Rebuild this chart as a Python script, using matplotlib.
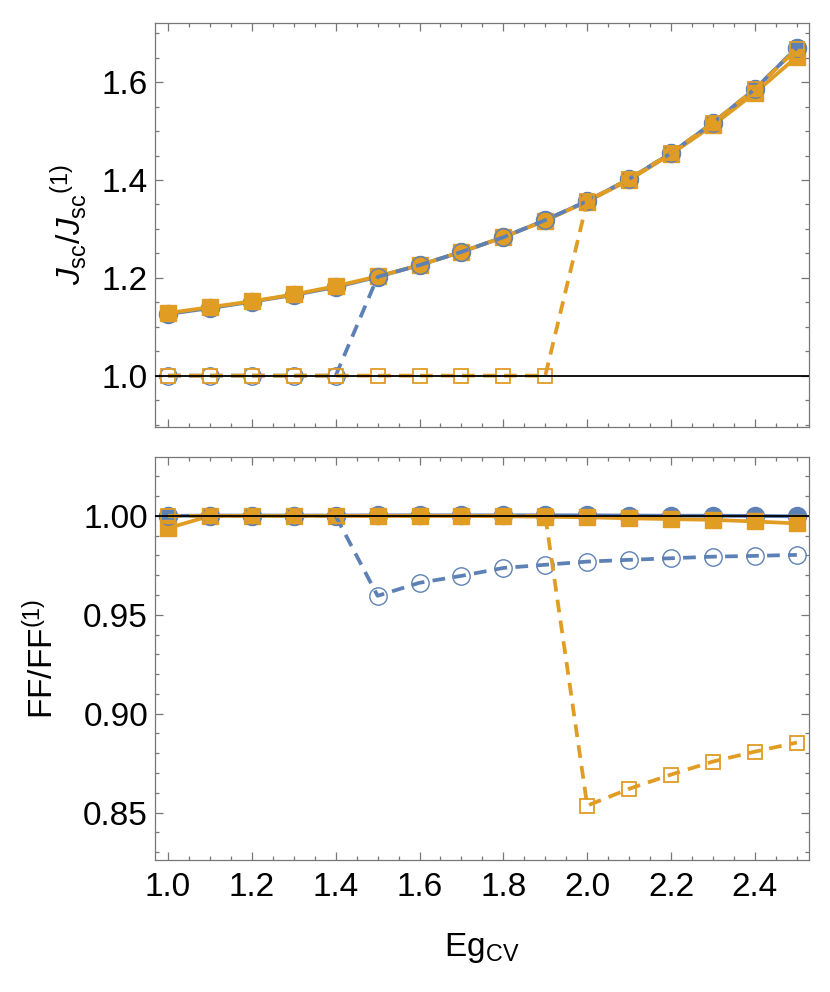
import matplotlib
matplotlib.use("Agg")
import matplotlib.pyplot as plt
from matplotlib.ticker import MultipleLocator

plt.rcParams["font.family"] = ["Liberation Sans", "DejaVu Sans"]
plt.rcParams["mathtext.fontset"] = "custom"
plt.rcParams["mathtext.rm"] = "Liberation Sans"
plt.rcParams["mathtext.it"] = "Liberation Sans:italic"

BLUE = "#5E81B5"
ORANGE = "#E19C24"

eg = [1.0, 1.1, 1.2, 1.3, 1.4, 1.5, 1.6, 1.7, 1.8, 1.9, 2.0, 2.1, 2.2, 2.3, 2.4, 2.5]

# top panel: Jsc / Jsc(1)
jsc_blue_solid = [1.126, 1.138, 1.151, 1.165, 1.181, 1.202, 1.226, 1.253,
                  1.283, 1.318, 1.357, 1.402, 1.455, 1.517, 1.586, 1.670]
jsc_orange_solid = [1.128, 1.140, 1.152, 1.166, 1.183, 1.203, 1.226, 1.253,
                    1.283, 1.317, 1.356, 1.400, 1.453, 1.512, 1.578, 1.652]
jsc_blue_dash = [1.0, 1.0, 1.0, 1.0, 1.0, 1.202, 1.226, 1.253,
                 1.283, 1.318, 1.357, 1.402, 1.455, 1.517, 1.586, 1.670]
jsc_orange_dash = [1.0, 1.0, 1.0, 1.0, 1.0, 1.0, 1.0, 1.0,
                   1.0, 1.0, 1.357, 1.402, 1.455, 1.517, 1.586, 1.668]

# bottom panel: FF / FF(1)
ff_blue_solid = [1.000, 1.0002, 1.0002, 1.0002, 1.0002, 1.0003, 1.0003, 1.0003,
                 1.0003, 1.0003, 1.0003, 1.0002, 1.0001, 1.0001, 1.0000, 0.9998]
ff_orange_solid = [0.9938, 1.000, 1.000, 1.000, 1.000, 1.000, 1.000, 1.000,
                   0.9998, 0.9996, 0.9993, 0.9988, 0.9984, 0.9980, 0.9972, 0.9962]
ff_blue_dash = [1.000, 1.000, 1.000, 1.000, 1.000, 0.9596, 0.9662, 0.9697,
                0.9737, 0.9753, 0.9769, 0.9778, 0.9786, 0.9794, 0.9798, 0.9803]
ff_orange_dash = [1.000, 1.000, 1.000, 1.000, 1.000, 1.000, 1.000, 1.000,
                  1.000, 1.000, 0.8535, 0.8620, 0.8692, 0.8758, 0.8808, 0.8854]

W, H = 830, 992
fig = plt.figure(figsize=(W / 100, H / 100), dpi=100)
L, R = 155 / W, 809 / W
ax1 = fig.add_axes([L, 1 - 427 / H, R - L, (427 - 23) / H])
ax2 = fig.add_axes([L, 1 - 860 / H, R - L, (860 - 457) / H])

LW = 2.7
DASH = (3.4, 2.2)
FS = 24


def draw(ax, bs, os_, bd, od):
    ax.plot(eg, bs, color=BLUE, lw=LW, marker="o", ms=13,
            mfc=BLUE, mec=BLUE, zorder=2)
    ax.plot(eg, os_, color=ORANGE, lw=LW, marker="s", ms=11.5,
            mfc=ORANGE, mec=ORANGE, zorder=3)
    ax.plot(eg, bd, color=BLUE, lw=LW, ls=(0, DASH), marker="o", ms=12.5,
            mfc="none", mec=BLUE, mew=1.0, zorder=4)
    ax.plot(eg, od, color=ORANGE, lw=LW, ls=(0, DASH), marker="s", ms=10.5,
            mfc="none", mec=ORANGE, mew=1.3, zorder=5)
    ax.axhline(1.0, color="black", lw=1.3, zorder=6)
    ax.set_xlim(0.969, 2.529)
    ax.xaxis.set_major_locator(MultipleLocator(0.2))
    ax.xaxis.set_minor_locator(MultipleLocator(0.05))
    ax.tick_params(which="both", direction="in", top=True, right=True,
                   color="#777777", width=0.9, labelsize=FS)
    ax.tick_params(which="major", length=6)
    ax.tick_params(which="minor", length=3.2)
    ax.tick_params(axis="y", pad=5)
    ax.tick_params(axis="x", pad=9)
    for s in ax.spines.values():
        s.set_color("#777777")
        s.set_linewidth(0.9)


draw(ax1, jsc_blue_solid, jsc_orange_solid, jsc_blue_dash, jsc_orange_dash)
draw(ax2, ff_blue_solid, ff_orange_solid, ff_blue_dash, ff_orange_dash)

ax1.set_ylim(0.895, 1.721)
ax1.yaxis.set_major_locator(MultipleLocator(0.2))
ax1.yaxis.set_minor_locator(MultipleLocator(0.05))
ax1.yaxis.set_major_formatter(plt.FuncFormatter(lambda v, p: f"{v:.1f}"))
ax1.tick_params(axis="x", labelbottom=False)
ax1.set_ylabel(r"$J_{\mathrm{sc}}/J_{\mathrm{sc}}{}^{(1)}$", fontsize=FS)
ax1.yaxis.set_label_coords(-0.10, 0.5)

ax2.set_ylim(0.826, 1.0298)
ax2.yaxis.set_major_locator(MultipleLocator(0.05))
ax2.yaxis.set_minor_locator(MultipleLocator(0.01))
ax2.yaxis.set_major_formatter(plt.FuncFormatter(lambda v, p: f"{v:.2f}"))
ax2.xaxis.set_major_formatter(plt.FuncFormatter(lambda v, p: f"{v:.1f}"))
ax2.set_ylabel(r"FF/FF$^{(1)}$", fontsize=FS)
ax2.yaxis.set_label_coords(-0.145, 0.5)
ax2.set_xlabel(r"Eg$_{\mathrm{CV}}$", fontsize=FS, labelpad=20)

fig.savefig("out.png", dpi=100)
